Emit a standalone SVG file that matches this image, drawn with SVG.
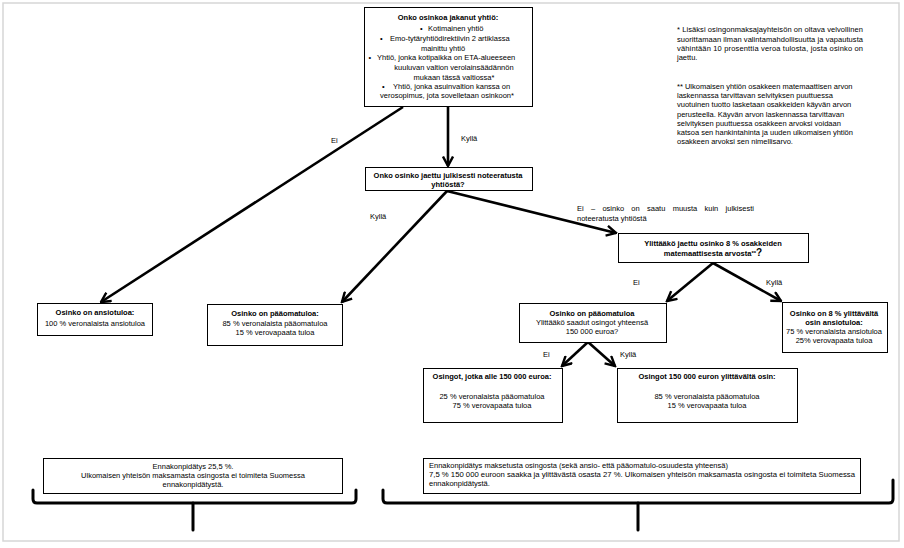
<svg xmlns="http://www.w3.org/2000/svg" width="904" height="548" viewBox="0 0 904 548">
<defs>
<style>
text{font-family:"Liberation Sans",Arial,sans-serif;font-size:7.5px;fill:#000}
.b{font-weight:bold}
.m{text-anchor:middle}
.box{fill:#fff;stroke:#000;stroke-width:1}
.con{fill:none;stroke:#000;stroke-width:2.6;marker-end:url(#ah)}
.br{fill:none;stroke:#000;stroke-width:3;stroke-linecap:round;stroke-linejoin:round}
</style>
<marker id="ah" markerUnits="userSpaceOnUse" viewBox="0 0 12 12" markerWidth="12" markerHeight="12" refX="10.5" refY="6" orient="auto">
<path d="M1,1 L10.5,6 L1,11" fill="none" stroke="#000" stroke-width="2.4"/>
</marker>
</defs>
<rect x="0" y="0" width="904" height="548" fill="#fff"/>
<rect x="3" y="3" width="896" height="538" fill="none" stroke="#d6d6d6" stroke-width="1.5"/>

<g id="connectors">
<path class="con" d="M403,107 L101,302"/>
<path class="con" d="M448,107 L448,166"/>
<path class="con" d="M447,191 L342,302"/>
<path class="con" d="M447,191 L616,233"/>
<path class="con" d="M713,263 L667,301"/>
<path class="con" d="M713,263 L781,301"/>
<path class="con" d="M588,342 L562,366"/>
<path class="con" d="M588,342 L615,366"/>
<text x="331" y="143">Ei</text>
<text x="461" y="141">Kyllä</text>
<text x="370" y="219">Kyllä</text>
<text x="577" y="210.5" word-spacing="5.2">Ei – osinko on saatu muusta kuin julkisesti</text>
<text x="577" y="220.5">noteeratusta yhtiöstä</text>
<text x="633" y="285">Ei</text>
<text x="766" y="285">Kyllä</text>
<text x="543" y="357">Ei</text>
<text x="620" y="357">Kyllä</text>
</g>

<g id="node-top">
<rect class="box" x="364.5" y="7.5" width="168" height="99"/>
<text class="b m" x="448" y="20">Onko osinkoa jakanut yhtiö:</text>
<text x="420" y="31">•</text>
<text x="428" y="31">Kotimainen yhtiö</text>
<text x="380" y="41">•</text>
<text x="390" y="41">Emo-tytäryhtiödirektiivin 2 artiklassa</text>
<text class="m" x="443" y="51">mainittu yhtiö</text>
<text x="368.5" y="60">•</text>
<text x="377" y="60">Yhtiö, jonka kotipaikka on ETA-alueeseen</text>
<text class="m" x="454" y="70">kuuluvan valtion verolainsäädännön</text>
<text class="m" x="454" y="79.5">mukaan tässä valtiossa*</text>
<text x="382" y="88.5">•</text>
<text x="393" y="88.5">Yhtiö, jonka asuinvaltion kanssa on</text>
<text class="m" x="447" y="98">verosopimus, jota sovelletaan osinkoon*</text>
</g>

<g id="notes">
<text x="677" y="32.3" textLength="186" lengthAdjust="spacing">* Lisäksi osingonmaksajayhteisön on oltava velvollinen</text>
<text x="677" y="41.6" textLength="186" lengthAdjust="spacing">suorittamaan ilman valintamahdollisuutta ja vapautusta</text>
<text x="677" y="50.8" textLength="186" lengthAdjust="spacing">vähintään 10 prosenttia veroa tulosta, josta osinko on</text>
<text x="677" y="60">jaettu.</text>
<text x="677" y="89">** Ulkomaisen yhtiön osakkeen matemaattisen arvon</text>
<text x="677" y="98.2">laskennassa tarvittavan selvityksen puuttuessa</text>
<text x="677" y="107.4">vuotuinen tuotto lasketaan osakkeiden käyvän arvon</text>
<text x="677" y="116.5">perusteella. Käyvän arvon laskennassa tarvittavan</text>
<text x="677" y="125.6">selvityksen puuttuessa osakkeen arvoksi voidaan</text>
<text x="677" y="134.8">katsoa sen hankintahinta ja uuden ulkomaisen yhtiön</text>
<text x="677" y="144">osakkeen arvoksi sen nimellisarvo.</text>
</g>

<g id="node-listed">
<rect class="box" x="365.5" y="167.5" width="167" height="23"/>
<text class="b m" x="448" y="178">Onko osinko jaettu julkisesti noteeratusta</text>
<text class="b m" x="448" y="186.5">yhtiöstä?</text>
</g>

<g id="node-exceeds">
<rect class="box" x="618.5" y="233.5" width="190" height="29"/>
<text class="b m" x="713" y="246">Ylittääkö jaettu osinko 8 % osakkeiden</text>
<text class="b m" x="713" y="256">matemaattisesta arvosta<tspan font-size="6" dy="-1">**</tspan><tspan font-size="10" dy="1">?</tspan></text>
</g>

<g id="node-earned">
<rect class="box" x="37.5" y="303.5" width="115" height="32"/>
<text class="b m" x="95" y="315">Osinko on ansiotuloa:</text>
<text class="m" x="95" y="326">100 % veronalaista ansiotuloa</text>
</g>

<g id="node-capital">
<rect class="box" x="207.5" y="304.5" width="135" height="41"/>
<text class="b m" x="275" y="316">Osinko on pääomatuloa:</text>
<text class="m" x="275" y="326">85 % veronalaista pääomatuloa</text>
<text class="m" x="275" y="335">15 % verovapaata tuloa</text>
</g>

<g id="node-capital2">
<rect class="box" x="519.5" y="303.5" width="147" height="39"/>
<text class="b m" x="592" y="316">Osinko on pääomatuloa</text>
<text class="m" x="592" y="325">Ylittääkö saadut osingot  yhteensä</text>
<text class="m" x="592" y="334">150 000 euroa?</text>
</g>

<g id="node-over8">
<rect class="box" x="782.5" y="302.5" width="105" height="50"/>
<text class="b m" x="834" y="316">Osinko on 8 % ylittävältä</text>
<text class="b m" x="834" y="325">osin ansiotuloa:</text>
<text class="m" x="834" y="334">75 % veronalaista ansiotuloa</text>
<text class="m" x="834" y="343">25% verovapaata tuloa</text>
</g>

<g id="node-under150">
<rect class="box" x="423.5" y="368.5" width="139" height="54"/>
<text class="b m" x="492" y="379">Osingot, jotka alle 150 000 euroa:</text>
<text class="m" x="492" y="399">25 % veronalaista pääomatuloa</text>
<text class="m" x="492" y="408">75 % verovapaata tuloa</text>
</g>

<g id="node-over150">
<rect class="box" x="617.5" y="368.5" width="180" height="54"/>
<text class="b m" x="707" y="379">Osingot 150 000 euron ylittävältä osin:</text>
<text class="m" x="707" y="399">85 % veronalaista pääomatuloa</text>
<text class="m" x="707" y="408">15 % verovapaata tuloa</text>
</g>

<g id="node-withholding-left">
<rect class="box" x="43.5" y="458.5" width="299" height="35"/>
<text class="m" x="193" y="469">Ennakonpidätys 25,5 %.</text>
<text class="m" x="193" y="478">Ulkomaisen yhteisön maksamasta osingosta ei toimiteta Suomessa</text>
<text class="m" x="193" y="486.5">ennakonpidätystä.</text>
</g>

<g id="node-withholding-right">
<rect class="box" x="423.5" y="458.5" width="437" height="35"/>
<text x="429" y="468">Ennakonpidätys maksetusta osingosta (sekä ansio- että pääomatulo-osuudesta yhteensä)</text>
<text x="429" y="477" textLength="426" lengthAdjust="spacingAndGlyphs">7,5 % 150 000 euroon saakka ja ylittävästä osasta 27 %. Ulkomaisen yhteisön maksamasta osingosta ei toimiteta Suomessa</text>
<text x="429" y="485.5">ennakonpidätystä.</text>
</g>

<g id="brackets">
<path class="br" d="M33,490 L33,499 Q33,503 37,503 L352,503 Q356,503 356,499 L356,490"/>
<path class="br" d="M193,503 L193,530"/>
<path class="br" d="M383,490 L383,499 Q383,503 387,503 L889,503 Q893,503 893,499 L893,480"/>
<path class="br" d="M638,503 L638,530"/>
</g>
</svg>
